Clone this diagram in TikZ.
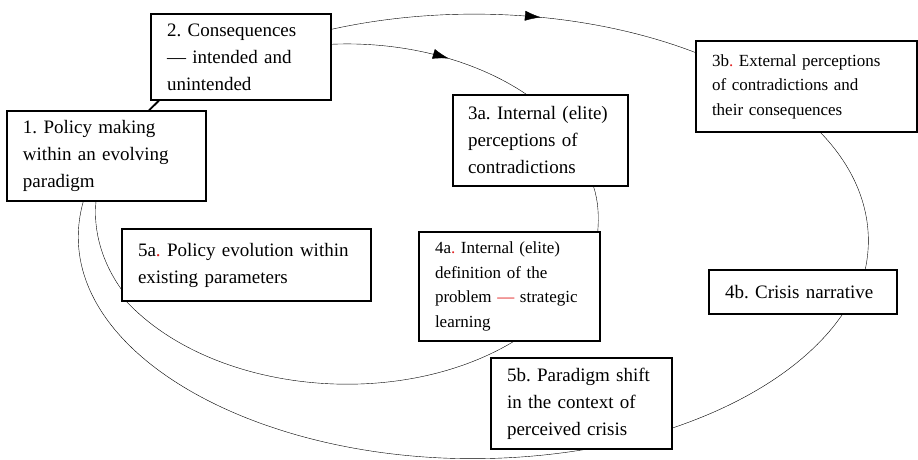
\documentclass[tikz,border=0pt]{standalone}
\usepackage{fontspec}
\setmainfont{Liberation Serif}
\usetikzlibrary{arrows.meta,decorations.markings,backgrounds}
\definecolor{dotred}{RGB}{225,30,30}
\frenchspacing
\newcommand{\bigtxt}{\fontsize{19pt}{27pt}\selectfont}
\newcommand{\smalltxt}{\fontsize{17pt}{24.5pt}\selectfont}
\newcommand{\rdot}{\textcolor{dotred}{.}}
\tikzset{
  box/.style={draw, fill=white, line width=1.3pt, align=left, inner xsep=16pt, inner ysep=2pt, font=\bigtxt},
  cycleline/.style={line width=1.3pt},
  mid arrow/.style={postaction={decorate}, decoration={markings, mark=at position #1 with {\arrow{Latex[length=16pt,width=10pt]}}}}
}
\begin{document}
\begin{tikzpicture}[x=1pt,y=1pt]
\useasboundingbox (0,0) rectangle (918,460);
% boxes
\node[box, text width=167pt, minimum height=90pt] (n1) at (106.5,304) {1. Policy making\\within an evolving\\paradigm};
\node[box, text width=148pt, minimum height=86pt] (n2) at (241,403) {2. Consequences\\— intended and\\unintended};
\node[box, text width=145pt, inner xsep=15pt, minimum height=91pt] (n3a) at (540.5,319.5) {3a. Internal (elite)\\perceptions of\\contradictions};
\node[box, text width=189pt, minimum height=91pt, font=\smalltxt] (n3b) at (806.5,373.5) {3b\rdot{} External perceptions\\of contradictions and\\their consequences};
\node[box, text width=149pt, minimum height=109pt, font=\smalltxt] (n4a) at (509.5,173.5) {4a\rdot{} Internal (elite)\\definition of the\\problem \textcolor{dotred}{—} strategic\\learning};
\node[box, text width=156pt, minimum height=44pt] (n4b) at (803,168) {4b. Crisis narrative};
\node[box, text width=217pt, minimum height=72pt] (n5a) at (246.5,195) {5a\rdot{} Policy evolution within\\existing parameters};
\node[box, text width=149pt, minimum height=91pt] (n5b) at (581.5,56.5) {5b. Paradigm shift\\in the context of\\perceived crisis};

\begin{scope}[on background layer, cycleline]
% outer cycle
\draw[mid arrow=0.57] (n2.17.3) .. controls (452.2,457.4) and (588.9,448.4) .. (n3b.163.13);
\draw (n3b.287.68) .. controls (860.8,285.7) and (875.4,237.3) .. (n4b.20.32);
\draw (n4b.330.51) .. controls (810.1,98.3) and (750.1,58.1) .. (n5b.345.09);
\draw (n5b.273.14) .. controls (306.1,-35.1) and (38.3,97.9) .. (n1.243.34);
% shared by both cycles
\draw[line width=1.8pt] (n1.47.74) -- (n2.208.44);
% inner cycle
\draw[mid arrow=0.58] (n2.8.03) .. controls (403.8,418.8) and (475.1,400.3) .. (n3a.107.45);
\draw (n3a.319.93) .. controls (598.3,258.8) and (599.0,243.3) .. (n4a.32.03);
\draw (n4a.274.51) .. controls (396.0,48.0) and (212.1,67.3) .. (n5a.197.37);
\draw (n5a.191.04) .. controls (102.0,198.1) and (93.2,228.5) .. (n1.257.71);
\end{scope}
\end{tikzpicture}
\end{document}
